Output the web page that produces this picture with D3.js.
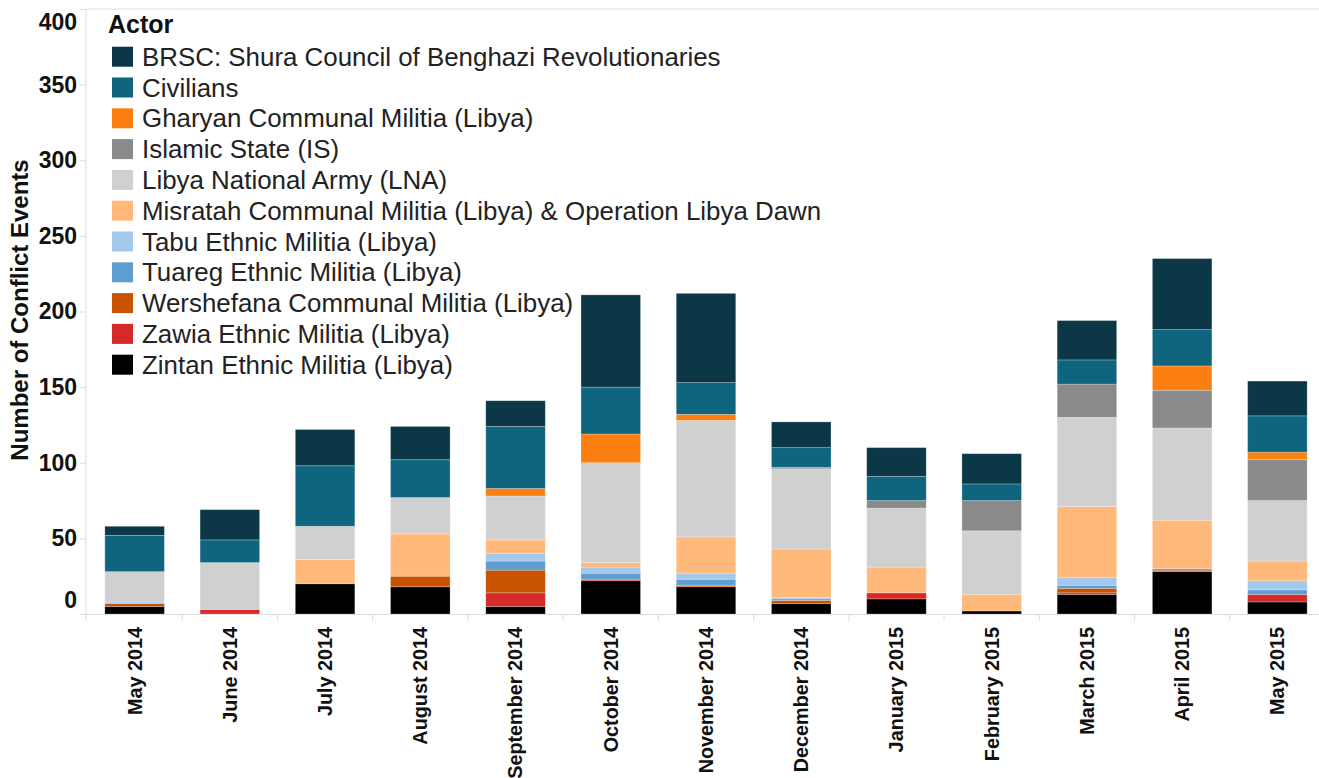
<!DOCTYPE html>
<html>
<head>
<meta charset="utf-8">
<script src="https://cdn.jsdelivr.net/npm/d3@7"></script>
<style>
body { margin: 0; background: #fff; }
svg text { font-family: Arial, "Liberation Sans", sans-serif; }
</style>
</head>
<body>
<div id="chart"></div>
<script>
// months on the x axis
var months = ["May 2014", "June 2014", "July 2014", "August 2014", "September 2014", "October 2014",
    "November 2014", "December 2014", "January 2015", "February 2015", "March 2015", "April 2015", "May 2015"];

// legend order (top of stack first)
var actors = ["BRSC: Shura Council of Benghazi Revolutionaries", "Civilians", "Gharyan Communal Militia (Libya)",
    "Islamic State (IS)", "Libya National Army (LNA)", "Misratah Communal Militia (Libya) & Operation Libya Dawn",
    "Tabu Ethnic Militia (Libya)", "Tuareg Ethnic Militia (Libya)", "Wershefana Communal Militia (Libya)",
    "Zawia Ethnic Militia (Libya)", "Zintan Ethnic Militia (Libya)"];

var colors = ["#0b3747", "#0f657e", "#fc8011", "#8a8a8a", "#d0d0d0", "#ffb97a",
    "#a3c8ec", "#5f9ed1", "#c85200", "#d62a2a", "#000000"];

// events per month for each actor
var brsc       = [6, 20, 24, 22, 17, 61, 59, 17, 19, 20, 26, 47, 23];
var civilians  = [24, 15, 40, 25, 41, 31, 21, 13, 16, 11, 16, 24, 24];
var gharyan    = [0, 0, 0, 0, 5, 19, 4, 0, 0, 0, 0, 16, 5];
var islamic    = [0, 0, 0, 0, 0, 0, 0, 1, 5, 20, 22, 25, 27];
var lna        = [20, 31, 22, 24, 29, 66, 77, 53, 39, 42, 59, 61, 40];
var misratah   = [0, 0, 16, 28, 9, 3, 24, 32, 17, 11, 47, 32, 13];
var tabu       = [1, 0, 0, 0, 5, 4, 4, 1, 0, 0, 5, 0, 6];
var tuareg     = [0, 0, 0, 0, 6, 4, 4, 1, 0, 0, 2, 1, 3];
var wershefana = [2, 0, 0, 7, 15, 0, 1, 2, 0, 0, 3, 1, 0];
var zawia      = [0, 3, 0, 0, 9, 1, 0, 0, 4, 0, 1, 0, 5];
var zintan     = [5, 0, 20, 18, 5, 22, 18, 7, 10, 2, 13, 28, 8];

var yTicks = [0, 50, 100, 150, 200, 250, 300, 350, 400];

var series = [brsc, civilians, gharyan, islamic, lna, misratah, tabu, tuareg, wershefana, zawia, zintan];

function draw(){
    var width = 1319, height = 778;
    var plot = {left: 86, right: 1325, top: 9, bottom: 614};

    var svg = d3.select("#chart").append("svg")
        .attr("width", width)
        .attr("height", height);

    // build rows for the stack
    var rows = months.map(function(m, i){
        var r = {month: m};
        actors.forEach(function(a, j){ r[a] = series[j][i]; });
        return r;
    });

    var x = d3.scaleBand().domain(months)
        .range([plot.left + 1, plot.right])
        .paddingInner(0.375)
        .paddingOuter(0.1875);
    var y = d3.scaleLinear().domain([0, 400]).range([plot.bottom, plot.top]);
    var color = d3.scaleOrdinal().domain(actors).range(colors);

    // frame lines
    svg.append("line").attr("x1", plot.left).attr("x2", width).attr("y1", plot.top).attr("y2", plot.top)
        .attr("stroke", "#dcdcdc");
    svg.append("line").attr("x1", plot.left).attr("x2", plot.left).attr("y1", plot.top).attr("y2", plot.bottom + 7)
        .attr("stroke", "#dcdcdc");
    svg.append("line").attr("x1", plot.left - 6).attr("x2", width).attr("y1", plot.bottom + 0.5).attr("y2", plot.bottom + 0.5)
        .attr("stroke", "#dcdcdc");

    // y axis
    var yAxis = svg.append("g")
        .attr("transform", "translate(" + plot.left + ",0)")
        .call(d3.axisLeft(y).tickValues(yTicks).tickSize(6).tickPadding(3));
    yAxis.select(".domain").remove();
    yAxis.selectAll(".tick line").attr("stroke", "#dcdcdc");
    yAxis.selectAll(".tick text")
        .style("font-size", "23px")
        .style("font-weight", "bold")
        .attr("fill", "#111")
        .attr("transform", function(d){
            var p = y(d), c = Math.max(22, Math.min(600, p));
            return "translate(0," + (c - p) + ")";
        });

    // y title
    svg.append("text")
        .attr("transform", "translate(20,310) rotate(-90)")
        .attr("text-anchor", "middle")
        .attr("dy", "0.35em")
        .style("font-size", "24px")
        .style("font-weight", "bold")
        .attr("fill", "#111")
        .text("Number of Conflict Events");

    // category separators
    var step = x.step();
    svg.selectAll(".sep")
        .data(d3.range(1, months.length))
        .enter().append("line")
        .attr("x1", function(i){ return plot.left + 1 + step * i; })
        .attr("x2", function(i){ return plot.left + 1 + step * i; })
        .attr("y1", plot.bottom + 0.5)
        .attr("y2", plot.bottom + 7)
        .attr("stroke", "#dcdcdc");

    // x labels
    svg.selectAll(".xlab")
        .data(months)
        .enter().append("text")
        .attr("transform", function(d){ return "translate(" + (x(d) + x.bandwidth() / 2) + ",627) rotate(-90)"; })
        .attr("text-anchor", "end")
        .attr("dy", "0.35em")
        .style("font-size", "19.8px")
        .style("font-weight", "bold")
        .attr("fill", "#111")
        .text(function(d){ return d; });

    // stacked bars (bottom of stack is the last actor)
    var stacked = d3.stack().keys(actors.slice().reverse())(rows);

    svg.selectAll(".layer")
        .data(stacked)
        .enter().append("g")
        .attr("fill", function(d){ return color(d.key); })
        .selectAll("rect")
        .data(function(d){ return d.filter(function(v){ return v[1] > v[0]; }); })
        .enter().append("rect")
        .attr("x", function(d){ return x(d.data.month); })
        .attr("y", function(d){ return y(d[1]); })
        .attr("width", x.bandwidth())
        .attr("height", function(d){ return y(d[0]) - y(d[1]); })
        .attr("stroke", "#ffffff")
        .attr("stroke-opacity", 0.3)
        .attr("stroke-width", 0.8);

    // legend
    var legend = svg.append("g");
    legend.append("text")
        .attr("x", 108)
        .attr("y", 33)
        .style("font-size", "25px")
        .style("font-weight", "bold")
        .attr("fill", "#111")
        .text("Actor");

    var item = legend.selectAll(".item")
        .data(actors)
        .enter().append("g")
        .attr("transform", function(d, i){ return "translate(112," + (56.7 + i * 30.8) + ")"; });
    item.append("rect")
        .attr("x", 0)
        .attr("y", -10)
        .attr("width", 21)
        .attr("height", 20)
        .attr("fill", function(d){ return color(d); });
    item.append("text")
        .attr("x", 30)
        .attr("dy", "0.35em")
        .style("font-size", "25.9px")
        .attr("fill", "#222")
        .text(function(d){ return d; });
}

draw();
</script>
</body>
</html>
